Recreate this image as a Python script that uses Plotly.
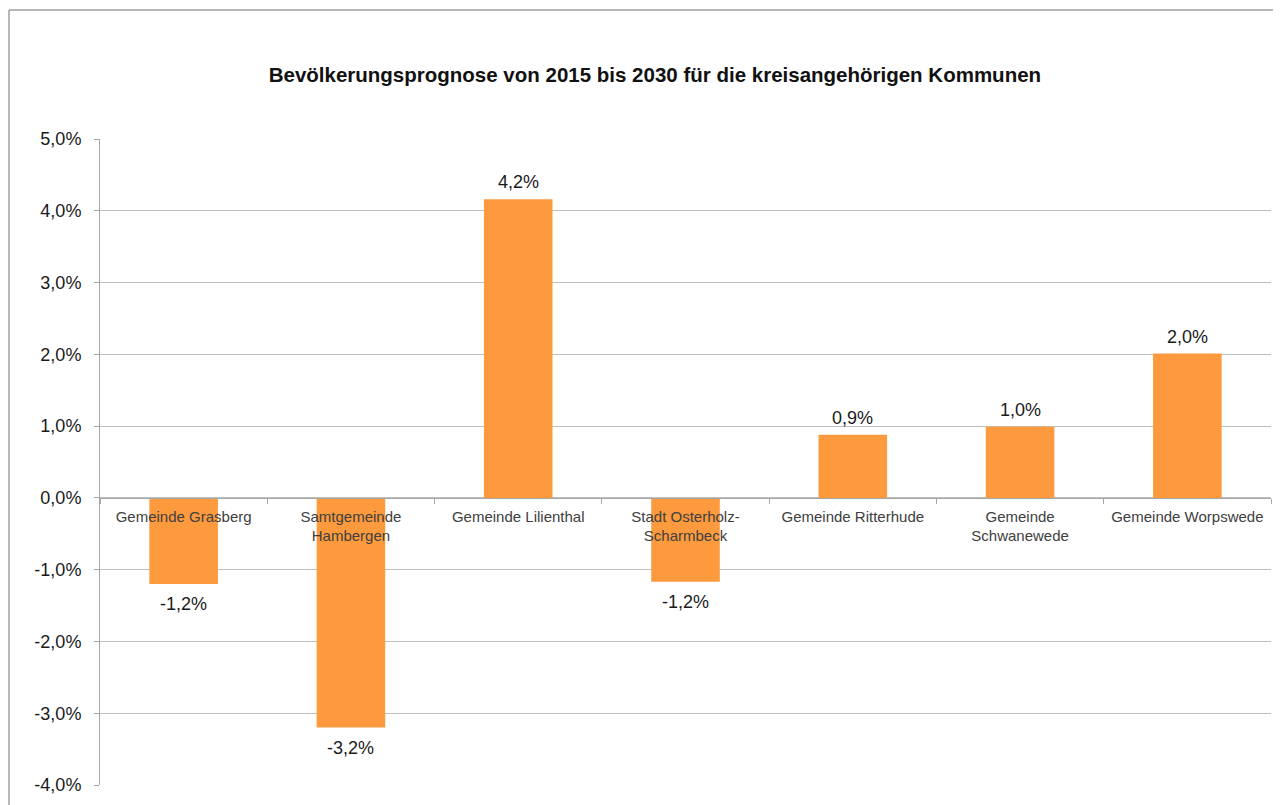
import plotly.graph_objects as go

# Daten
kommunen = [
    "Gemeinde Grasberg",
    "Samtgemeinde<br>Hambergen",
    "Gemeinde Lilienthal",
    "Stadt Osterholz-<br>Scharmbeck",
    "Gemeinde Ritterhude",
    "Gemeinde<br>Schwanewede",
    "Gemeinde Worpswede",
]
veraenderung = [-1.2, -3.2, 4.16, -1.17, 0.88, 0.99, 2.01]
beschriftung = ["-1,2%", "-3,2%", "4,2%", "-1,2%", "0,9%", "1,0%", "2,0%"]
y_ticks = [-4, -3, -2, -1, 0, 1, 2, 3, 4, 5]
y_ticktext = ["-4,0%", "-3,0%", "-2,0%", "-1,0%", "0,0%", "1,0%", "2,0%", "3,0%", "4,0%", "5,0%"]

titel = "<b>Bevölkerungsprognose von 2015 bis 2030 für die kreisangehörigen Kommunen</b>"

fig = go.Figure()
fig.add_trace(go.Bar(
    x=kommunen,
    y=veraenderung,
    marker=dict(color="#fd9a3e", line=dict(width=0)),
))

# Datenbeschriftungen ueber bzw. unter den Balken
for k, v, t in zip(kommunen, veraenderung, beschriftung):
    fig.add_annotation(
        x=k, y=v, text=t, showarrow=False,
        yanchor="bottom" if v >= 0 else "top",
        yshift=5 if v >= 0 else -8,
        font=dict(size=18, color="#1a1a1a"),
    )

fig.update_layout(
    width=1281,
    height=805,
    paper_bgcolor="white",
    plot_bgcolor="white",
    font=dict(family="Liberation Sans, Arial, sans-serif", color="#1a1a1a"),
    margin=dict(l=92, r=18, t=131, b=28),
    bargap=0.59,
    showlegend=False,
    title=dict(text=titel, x=0.505, xanchor="center", y=0.917, yanchor="middle",
               font=dict(size=20.5, color="#111111")),
)

# x-Achse auf der Nulllinie, Beschriftung darunter
fig.update_xaxes(
    anchor="free",
    position=4 / 9,
    showline=True,
    linecolor="#a6a6a6",
    linewidth=1,
    ticks="outside",
    tickson="boundaries",
    ticklen=5,
    tickcolor="#a6a6a6",
    tickfont=dict(size=15, color="#404040"),
    ticklabelstandoff=5,
    showgrid=False,
    fixedrange=True,
)

fig.update_yaxes(
    range=[-4, 5],
    tickvals=y_ticks,
    ticktext=y_ticktext,
    tickfont=dict(size=18, color="#1a1a1a"),
    showline=True,
    linecolor="#a6a6a6",
    ticks="outside",
    ticklen=5,
    tickcolor="#a6a6a6",
    showgrid=True,
    gridcolor="#bfbfbf",
    gridwidth=1,
    zeroline=False,
    ticklabelstandoff=9,
)

# Rahmen des Diagrammbereichs (oben und links)
rand_x = (1 - 92) / 1171
rand_y = (777 - 2) / 646
fig.add_shape(type="line", xref="paper", yref="paper",
              x0=rand_x, x1=1.05, y0=rand_y, y1=rand_y,
              line=dict(color="#a0a0a0", width=1.5))
fig.add_shape(type="line", xref="paper", yref="paper",
              x0=rand_x, x1=rand_x, y0=rand_y, y1=-0.1,
              line=dict(color="#a0a0a0", width=1.5))

fig.write_html("out.html")
